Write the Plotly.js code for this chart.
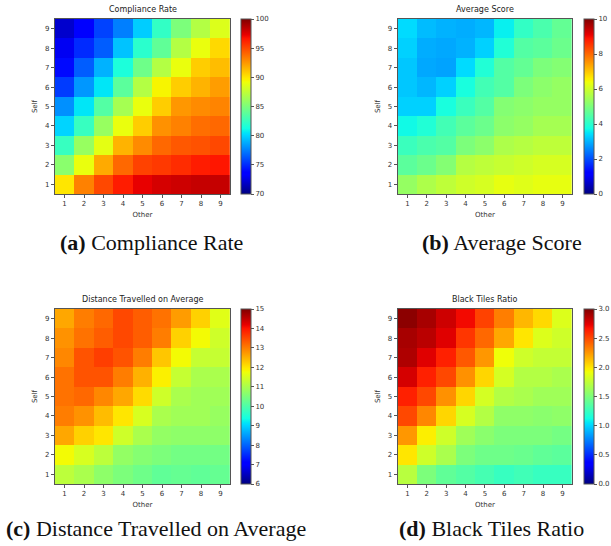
<!DOCTYPE html>
<html><head><meta charset="utf-8">
<script src="https://cdn.plot.ly/plotly-3.0.1.min.js"></script>
<style>html,body{margin:0;padding:0;background:#fff;}#chart{width:611px;height:546px;}</style>
</head><body><div id="chart"></div>
<script>
// axes categories
const other = [1,2,3,4,5,6,7,8,9];
const self = [1,2,3,4,5,6,7,8,9];

// rows: Self = 1..9 (bottom to top), columns: Other = 1..9
const compliance = [
  [90.0,93.2,95.0,96.4,97.3,97.8,98.0,98.2,98.2],
  [85.5,89.0,91.9,94.0,95.2,95.5,95.9,96.4,96.6],
  [82.5,86.0,88.8,91.6,92.9,94.0,94.5,94.7,95.0],
  [80.0,82.5,86.0,89.0,90.8,92.7,93.2,93.8,94.0],
  [78.0,80.5,83.5,86.5,89.0,90.8,92.5,92.9,93.1],
  [75.5,78.2,80.5,83.8,87.0,89.5,90.8,91.6,92.3],
  [74.0,76.5,79.0,81.5,84.5,87.0,89.0,90.8,91.3],
  [73.0,75.0,76.5,79.5,82.0,84.0,87.0,89.0,90.4],
  [72.0,73.5,75.7,77.5,79.8,82.3,85.0,87.0,88.5]
];
const avgScore = [
  [5.3,5.6,5.8,6.0,6.1,6.3,6.2,6.3,6.3],
  [4.6,4.8,5.1,5.7,5.8,5.9,6.0,6.1,6.1],
  [4.2,4.4,4.5,5.0,5.2,5.6,5.7,5.8,5.8],
  [3.7,3.9,4.3,4.6,4.8,5.2,5.3,5.5,5.5],
  [3.3,3.3,3.8,4.2,4.5,5.1,5.2,5.3,5.3],
  [3.2,3.05,3.3,3.8,4.3,4.5,5.0,5.2,5.3],
  [3.2,2.9,2.85,3.4,3.9,4.5,4.7,5.0,5.1],
  [3.3,2.95,2.9,3.0,3.3,3.9,4.5,4.6,4.8],
  [3.4,3.1,3.0,2.95,3.05,3.6,4.1,4.4,4.7]
];
const distance = [
  [11.2,11.0,10.7,10.5,10.35,10.2,10.25,10.2,10.25],
  [11.8,11.5,11.2,10.75,10.6,10.5,10.4,10.4,10.4],
  [12.6,12.2,12.0,11.4,11.0,10.75,10.7,10.7,10.7],
  [13.0,12.8,12.4,12.0,11.5,11.0,10.9,10.9,10.8],
  [13.1,13.2,12.9,12.6,12.1,11.4,11.0,10.9,10.9],
  [13.1,13.4,13.4,13.0,12.5,11.9,11.3,11.0,11.0],
  [12.9,13.4,13.6,13.4,13.0,12.3,11.8,11.3,11.3],
  [12.8,13.1,13.3,13.5,13.3,13.0,12.2,11.8,11.4],
  [12.6,13.0,13.2,13.5,13.3,13.1,12.7,12.2,11.6]
];
const blackTiles = [
  [1.72,1.50,1.40,1.35,1.30,1.25,1.28,1.25,1.25],
  [2.00,1.80,1.67,1.50,1.45,1.45,1.43,1.40,1.38],
  [2.25,1.97,1.80,1.63,1.55,1.50,1.50,1.50,1.47],
  [2.50,2.30,2.05,1.83,1.70,1.57,1.57,1.55,1.57],
  [2.63,2.50,2.27,2.05,1.82,1.70,1.67,1.63,1.63],
  [2.78,2.63,2.50,2.27,2.05,1.82,1.70,1.70,1.67],
  [2.88,2.75,2.63,2.45,2.25,1.92,1.80,1.76,1.76],
  [2.90,2.85,2.75,2.56,2.40,2.20,2.00,1.85,1.80],
  [2.97,2.90,2.80,2.70,2.52,2.33,2.15,2.04,1.85]
];
const titles = ["Compliance Rate","Average Score","Distance Travelled on Average","Black Tiles Ratio"];
const captions = ["<b>(a)</b> Compliance Rate","<b>(b)</b> Average Score","<b>(c)</b> Distance Travelled on Average","<b>(d)</b> Black Tiles Ratio"];
const zRanges = [[70,100],[0,10],[6,15],[0,3]];
const cbTicks = [[70,75,80,85,90,95,100],[0,2,4,6,8,10],[6,7,8,9,10,11,12,13,14,15],[0,0.5,1,1.5,2,2.5,3]];
const cbTickText = [["70","75","80","85","90","95","100"],["0","2","4","6","8","10"],["6","7","8","9","10","11","12","13","14","15"],["0.0","0.5","1.0","1.5","2.0","2.5","3.0"]];

// matplotlib jet
const jet = [
  [0,'rgb(0,0,128)'],[0.11,'rgb(0,0,255)'],[0.125,'rgb(0,0,255)'],[0.34,'rgb(0,219,255)'],
  [0.35,'rgb(0,230,247)'],[0.375,'rgb(21,255,226)'],[0.64,'rgb(239,255,8)'],[0.65,'rgb(247,245,0)'],
  [0.66,'rgb(255,236,0)'],[0.89,'rgb(255,19,0)'],[0.91,'rgb(232,0,0)'],[1,'rgb(128,0,0)']
];

const W = 611, H = 546;
const panels = [
  {x0:55, x1:231, y0:19, y1:194, cbx:242},
  {x0:399, x1:574, y0:19, y1:194, cbx:586},
  {x0:55, x1:231, y0:309, y1:484, cbx:242},
  {x0:399, x1:574, y0:309, y1:484, cbx:586}
];
const capPos = [{x:152,y:243},{x:504,y:243},{x:157,y:528},{x:493,y:528}];
const datasets = [compliance, avgScore, distance, blackTiles];

const axColor = '#555';
const tickFont = {family:'DejaVu Sans', size:7, color:'#333'};
const data = [];
const layout = {
  width:W, height:H, margin:{l:0,r:0,t:0,b:0},
  paper_bgcolor:'#fff', plot_bgcolor:'#fff', showlegend:false,
  annotations:[]
};
panels.forEach((p,i)=>{
  const n = i+1;
  const xa = 'xaxis'+(n===1?'':n), ya = 'yaxis'+(n===1?'':n);
  data.push({
    type:'heatmap', x:other, y:self, z:datasets[i],
    xaxis:'x'+(n===1?'':n), yaxis:'y'+(n===1?'':n),
    colorscale:jet, zmin:zRanges[i][0], zmax:zRanges[i][1], zsmooth:false,
    xgap:0, ygap:0,
    colorbar:{
      x:p.cbx/W, xanchor:'left', xref:'paper',
      y:1-p.y0/H, yanchor:'top', len:(p.y1-p.y0)/H, lenmode:'fraction',
      thickness:10, thicknessmode:'pixels',
      outlinecolor:axColor, outlinewidth:1,
      tickvals:cbTicks[i], ticktext:cbTickText[i], ticks:'outside', ticklen:3, tickcolor:axColor,
      tickfont:tickFont, xpad:0, ypad:0
    }
  });
  const axCommon = {
    range:[0.5,9.5], tickvals:[1,2,3,4,5,6,7,8,9], ticks:'outside', ticklen:3, tickcolor:axColor,
    showline:true, linecolor:axColor, linewidth:1, mirror:true, showgrid:false, zeroline:false,
    tickfont:tickFont, fixedrange:true
  };
  layout[xa] = Object.assign({}, axCommon, {
    domain:[p.x0/W, p.x1/W], anchor:'y'+(n===1?'':n),
    title:{text:'Other', font:{family:'DejaVu Sans', size:7, color:'#333'}, standoff:4}
  });
  layout[ya] = Object.assign({}, axCommon, {
    domain:[1-p.y1/H, 1-p.y0/H], anchor:'x'+(n===1?'':n),
    title:{text:'Self', font:{family:'DejaVu Sans', size:7, color:'#333'}, standoff:6}
  });
  layout.annotations.push({
    text:titles[i], xref:'paper', yref:'paper', x:(p.x0+p.x1)/2/W, y:1-(p.y0-3)/H,
    xanchor:'center', yanchor:'bottom', showarrow:false,
    font:{family:'DejaVu Sans', size:8, color:'#222'}
  });
  layout.annotations.push({
    text:captions[i], xref:'paper', yref:'paper', x:capPos[i].x/W, y:1-capPos[i].y/H,
    xanchor:'center', yanchor:'middle', showarrow:false,
    font:{family:'Liberation Serif', size:22, color:'#111'}
  });
});
Plotly.newPlot('chart', data, layout, {displayModeBar:false, staticPlot:true});
</script></body></html>
